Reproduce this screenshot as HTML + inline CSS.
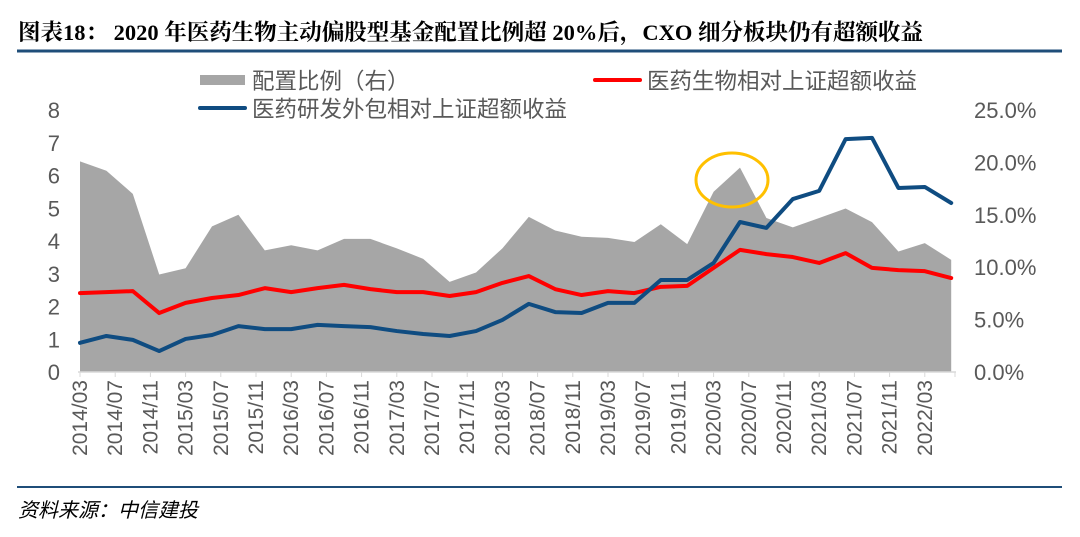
<!DOCTYPE html>
<html><head><meta charset="utf-8">
<style>
body{margin:0;background:#fff;}
svg{display:block;font-family:"Liberation Sans","Noto Sans CJK SC",sans-serif;}
</style></head>
<body>
<svg id="chart" width="1080" height="537" viewBox="0 0 1080 537">
<text x="18" y="40" font-family="'Liberation Serif','Noto Serif CJK SC',serif" font-weight="bold" font-size="22.5" fill="#000">图表18：  2020 年医药生物主动偏股型基金配置比例超 20%后，CXO 细分板块仍有超额收益</text>
<line x1="17" y1="51" x2="1062" y2="51" stroke="#1f4e79" stroke-width="3"/>
<g id="plot"></g>
<g>
<rect x="200" y="75" width="45" height="10" fill="#a6a6a6"/>
<text x="252" y="89" font-size="22.5" fill="#595959">配置比例（右）</text>
<line x1="595" y1="80" x2="640" y2="80" stroke="#ff0000" stroke-width="4" stroke-linecap="round"/>
<text x="647" y="89" font-size="22.5" fill="#595959">医药生物相对上证超额收益</text>
<line x1="200" y1="108" x2="245" y2="108" stroke="#0f4c81" stroke-width="4" stroke-linecap="round"/>
<text x="252" y="117" font-size="22.5" fill="#595959">医药研发外包相对上证超额收益</text>
</g>
<line x1="17" y1="487" x2="1062" y2="487" stroke="#1f4e79" stroke-width="2"/>
<text x="18" y="517" font-size="20" font-style="italic" fill="#000" font-family="'Liberation Serif','Noto Sans CJK SC',sans-serif">资料来源：中信建投</text>
</svg>
<script>
const months = [];
for (let i = 0; i < 34; i++) { months.push(i * 3); }
const allocationPct = [20.1,19.2,17.0,9.3,9.9,13.9,15.0,11.6,12.1,11.6,12.7,12.7,11.8,10.8,8.6,9.5,11.8,14.8,13.5,12.9,12.8,12.4,14.1,12.2,17.2,19.5,14.7,13.8,14.7,15.6,14.3,11.5,12.3,10.7];
const pharmaExcess = [2.41,2.44,2.47,1.80,2.11,2.26,2.35,2.56,2.44,2.56,2.66,2.53,2.44,2.44,2.32,2.44,2.72,2.93,2.53,2.35,2.47,2.41,2.60,2.63,3.18,3.73,3.60,3.51,3.33,3.63,3.18,3.11,3.08,2.87];
const cxoExcess = [0.89,1.10,0.98,0.64,1.01,1.13,1.40,1.31,1.31,1.44,1.40,1.37,1.25,1.16,1.10,1.25,1.59,2.08,1.83,1.80,2.11,2.11,2.81,2.81,3.33,4.58,4.40,5.28,5.53,7.11,7.15,5.62,5.65,5.16];
const leftTicks = [0,1,2,3,4,5,6,7,8];
const rightTicks = [0,5,10,15,20,25];
const xLabels = ["2014/03","2014/07","2014/11","2015/03","2015/07","2015/11","2016/03","2016/07","2016/11","2017/03","2017/07","2017/11","2018/03","2018/07","2018/11","2019/03","2019/07","2019/11","2020/03","2020/07","2020/11","2021/03","2021/07","2021/11","2022/03"];

const NS = "http://www.w3.org/2000/svg";
const g = document.getElementById("plot");
const X0 = 80, PXM = 8.8, Y0 = 372, YTOP = 110;
const x = m => X0 + m * PXM;
const yL = v => Y0 - v * (Y0 - YTOP) / 8;
const yR = v => Y0 - v * (Y0 - YTOP) / 25;
function mk(tag, attrs) { const e = document.createElementNS(NS, tag); for (const k in attrs) e.setAttribute(k, attrs[k]); g.appendChild(e); return e; }

let d = "M" + x(months[0]) + "," + Y0;
months.forEach((m, i) => { d += " L" + x(m) + "," + yR(allocationPct[i]); });
d += " L" + x(months[months.length - 1]) + "," + Y0 + " Z";
const area = mk("path", { d: d, fill: "#a6a6a6" });



const axis = mk("line", { x1: 78, y1: Y0, x2: 956, y2: Y0, stroke: "#d9d9d9", "stroke-width": 1.5 });



xLabels.forEach((lab, i) => {
  const tx = X0 + i * 4 * PXM;
  const t = mk("line", { x1: tx, y1: Y0, x2: tx, y2: Y0 + 5, stroke: "#d9d9d9", "stroke-width": 1 });
  
  
  const tt = mk("text", { x: 0, y: 0, "font-size": 21, fill: "#595959", "text-anchor": "end", transform: "translate(" + (tx + 7) + "," + (Y0 + 8) + ") rotate(-90)" });
  tt.textContent = lab;
  
  
});
{ const t = mk("line", { x1: 955, y1: Y0, x2: 955, y2: Y0 + 5, stroke: "#d9d9d9", "stroke-width": 1 });
  
   }

leftTicks.forEach(v => {
  const t = mk("text", { x: 60, y: yL(v) + 8, "font-size": 22, fill: "#595959", "text-anchor": "end" });
  t.textContent = v;
  
  
});
rightTicks.forEach(v => {
  const t = mk("text", { x: 974, y: yR(v) + 8, "font-size": 22, fill: "#595959" });
  t.textContent = v.toFixed(1) + "%";
  
  
});

function line(vals, color) {
  return mk("polyline", { points: months.map((m, i) => x(m) + "," + yL(vals[i])).join(" "), fill: "none", stroke: color, "stroke-width": 4, "stroke-linejoin": "round", "stroke-linecap": "round" });
}
const red = line(pharmaExcess, "#ff0000");


const blue = line(cxoExcess, "#0f4c81");



const circ = mk("ellipse", { cx: x(months[25]) - 8, cy: 180, rx: 36, ry: 27, fill: "none", stroke: "#ffc000", "stroke-width": 3 });


</script>
</body></html>
